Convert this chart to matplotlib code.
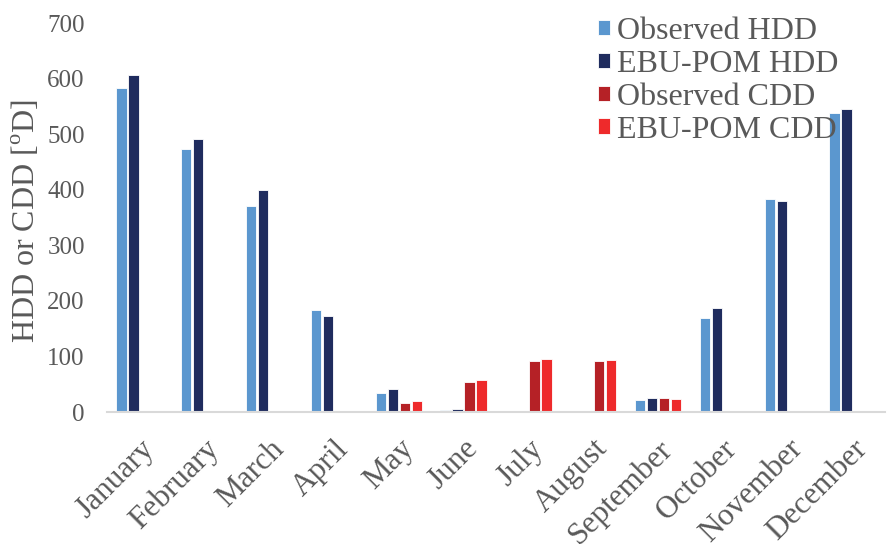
import numpy as np
import matplotlib.pyplot as plt

months = ["January", "February", "March", "April", "May", "June", "July",
          "August", "September", "October", "November", "December"]
obs_hdd = [583, 473, 371, 184, 35, 4, 0, 0.4, 21, 170, 383, 538]
ebu_hdd = [606, 491, 400, 173, 42, 6, 1.5, 1, 25, 188, 380, 545]
obs_cdd = [0, 0, 0, 0, 16, 54, 91, 92, 24.5, 2, 0, 0]
ebu_cdd = [0, 0, 0, 1, 19, 58, 95, 93, 23, 0, 0, 0]

series = [
    ("Observed HDD", obs_hdd, "#5B97CF"),
    ("EBU-POM HDD", ebu_hdd, "#1F2C5E"),
    ("Observed CDD", obs_cdd, "#B52126"),
    ("EBU-POM CDD", ebu_cdd, "#EE2A2B"),
]

plt.rcParams["font.family"] = ["Liberation Serif", "DejaVu Serif"]
gray = "#595959"

fig = plt.figure(figsize=(8.89, 5.44), dpi=100)
ax = fig.add_axes([0.1204, 0.2426, 0.8751, 0.7151])

x = np.arange(len(months))
width = 0.16
step = 0.185
for i, (label, vals, color) in enumerate(series):
    ax.bar(x + (i - 1.5) * step, vals, width, color=color, label=label,
           edgecolor="white", linewidth=0.6)

ax.set_xlim(-0.5, len(months) - 0.5)
ax.set_ylim(0, 700)
ax.set_yticks(range(0, 701, 100))
ax.tick_params(axis="y", length=0, pad=16, labelsize=18, labelcolor=gray)
ax.tick_params(axis="x", length=0, pad=16, labelsize=22.5, labelcolor=gray)
ax.set_xticks(x)
ax.set_xticklabels(months, rotation=45, ha="right", va="top",
                   rotation_mode="anchor")

for s in ("left", "right", "top"):
    ax.spines[s].set_visible(False)
ax.spines["bottom"].set_color("#D9D9D9")
ax.spines["bottom"].set_linewidth(1.5)

fig.text(0.030, 1 - 221 / 544, r"HDD or CDD [$^{\mathregular{o}}$D]",
         rotation=90, ha="center", va="center", fontsize=23, color=gray)

fig.legend(*ax.get_legend_handles_labels(), loc="upper left",
           bbox_to_anchor=(598 / 889, 1 - 17 / 544), frameon=False,
           fontsize=23, labelcolor=gray, handlelength=0.36,
           handleheight=0.36, handletextpad=0.22, labelspacing=0.12,
           borderaxespad=0, borderpad=0)

fig.savefig("out.png", dpi=100)
